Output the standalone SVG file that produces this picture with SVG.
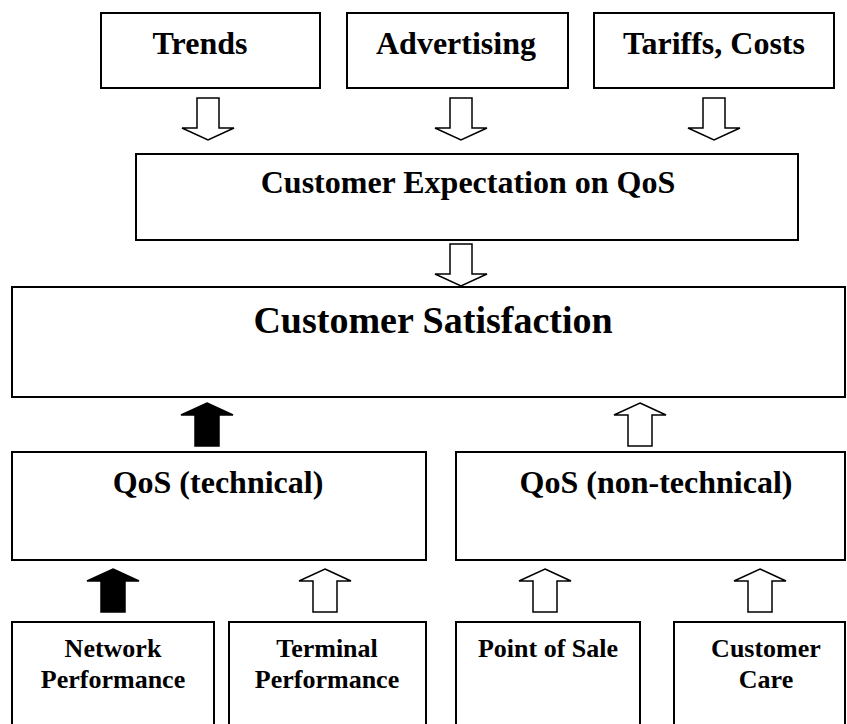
<svg xmlns="http://www.w3.org/2000/svg" xmlns:xlink="http://www.w3.org/1999/xlink" width="847" height="724" viewBox="0 0 847 724">
<style>
.box{fill:#fff;stroke:#000;stroke-width:2}
.t{font-family:"Liberation Serif","Times New Roman",serif;font-weight:bold;text-anchor:middle;fill:#000}
.t32{font-size:32px}
.t38{font-size:38px}
.t26{font-size:26px}
.wa{fill:#fff;stroke:#000;stroke-width:1.5;stroke-linejoin:miter}
.ba{fill:#000;stroke:#000;stroke-width:1.5}
</style>
<defs>
<path id="up" d="M0,0 L26,12 L12,12 L12,43 L-12,43 L-12,12 L-26,12 Z"/>
<path id="down" d="M-11,0 L11,0 L11,30 L26,30 L0,42 L-26,30 L-11,30 Z"/>
</defs>
<rect width="847" height="724" fill="#fff"/>
<g id="trends"><rect class="box" x="101" y="13" width="219" height="75"/><text class="t t32" x="200" y="54">Trends</text></g>
<g id="advertising"><rect class="box" x="347" y="13" width="221" height="75"/><text class="t t32" x="456" y="54">Advertising</text></g>
<g id="tariffs"><rect class="box" x="594" y="13" width="240" height="75"/><text class="t t32" x="714" y="54">Tariffs, Costs</text></g>
<g id="expectation"><rect class="box" x="136" y="154" width="662" height="86"/><text class="t t32" x="468" y="193">Customer Expectation on QoS</text></g>
<g id="satisfaction"><rect class="box" x="12" y="287" width="833" height="110"/><text class="t t38" x="433" y="333">Customer Satisfaction</text></g>
<g id="qos-technical"><rect class="box" x="12" y="452" width="414" height="108"/><text class="t t32" x="218" y="493">QoS (technical)</text></g>
<g id="qos-nontechnical"><rect class="box" x="456" y="452" width="389" height="108"/><text class="t t32" x="656" y="493">QoS (non-technical)</text></g>
<g id="network"><rect class="box" x="12" y="622" width="202" height="110"/><text class="t t26" x="113" y="657">Network</text><text class="t t26" x="113" y="688">Performance</text></g>
<g id="terminal"><rect class="box" x="229" y="622" width="197" height="110"/><text class="t t26" x="327" y="657">Terminal</text><text class="t t26" x="327" y="688">Performance</text></g>
<g id="pos"><rect class="box" x="456" y="622" width="184" height="110"/><text class="t t26" x="548" y="657">Point of Sale</text></g>
<g id="care"><rect class="box" x="674" y="622" width="171" height="110"/><text class="t t26" x="766" y="657">Customer</text><text class="t t26" x="766" y="688">Care</text></g>
<g id="connectors">
<use xlink:href="#down" class="wa" x="208" y="98"/>
<use xlink:href="#down" class="wa" x="461" y="98"/>
<use xlink:href="#down" class="wa" x="714" y="98"/>
<use xlink:href="#down" class="wa" x="461" y="244"/>
<use xlink:href="#up" class="ba" x="207" y="403"/>
<use xlink:href="#up" class="wa" x="640" y="403"/>
<use xlink:href="#up" class="ba" x="113" y="569"/>
<use xlink:href="#up" class="wa" x="325" y="569"/>
<use xlink:href="#up" class="wa" x="545" y="569"/>
<use xlink:href="#up" class="wa" x="760" y="569"/>
</g>
</svg>
